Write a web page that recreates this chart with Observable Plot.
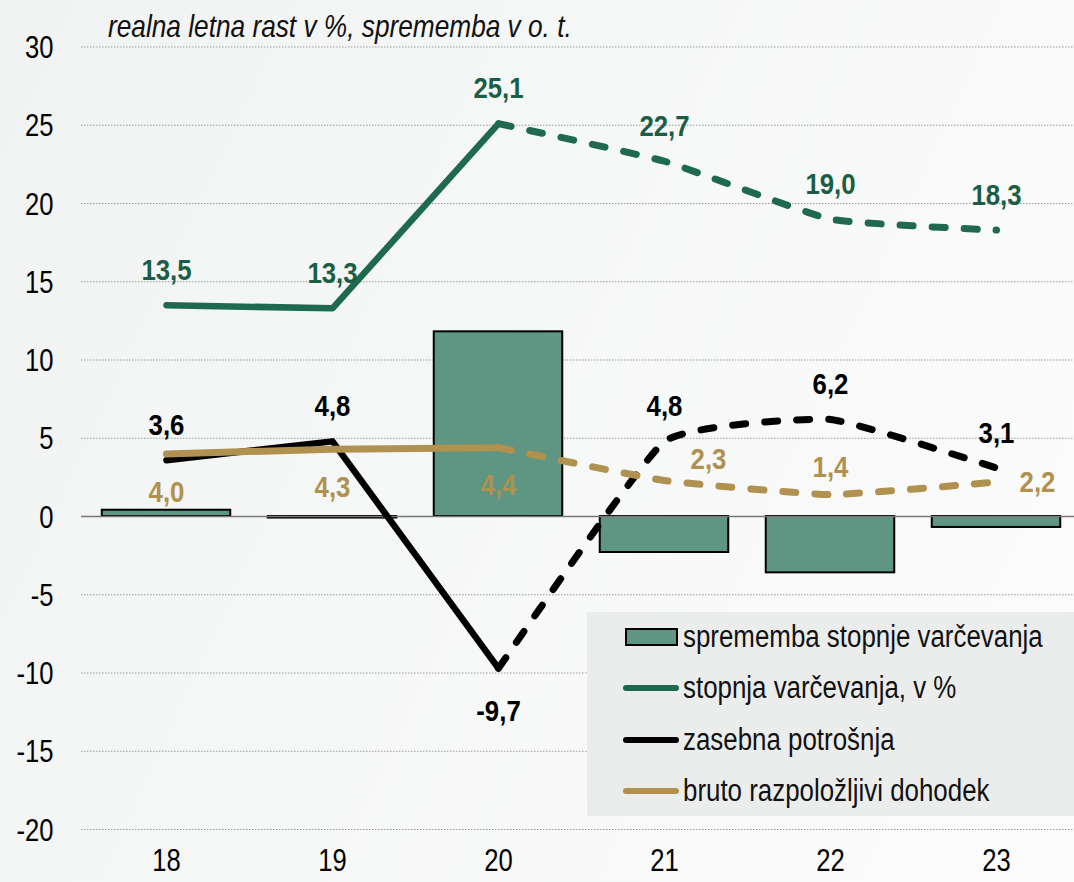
<!DOCTYPE html>
<html><head><meta charset="utf-8">
<script src="https://cdn.jsdelivr.net/npm/d3@7"></script>
<script src="https://cdn.jsdelivr.net/npm/@observablehq/plot@0.6"></script>
<style>
body{margin:0;background:#fff;}
#wrap{position:relative;width:1074px;height:882px;overflow:hidden;
 background:linear-gradient(115deg,#f1f3f2 0%,#f6f7f7 45%,#fbfcfb 100%);
 font-family:"Liberation Sans",Arial,sans-serif;}
#chart{position:absolute;left:0;top:0;}
#title{position:absolute;left:108px;top:8px;font-style:italic;font-size:32px;color:#111;white-space:nowrap;line-height:36px;transform:scaleX(0.82);transform-origin:left center;}
#legend{position:absolute;left:587px;top:612px;width:487px;height:204px;background:#ebedec;}
.item{position:absolute;left:36px;height:40px;display:flex;align-items:center;font-size:31px;color:#111;white-space:nowrap;}
.item .t{display:inline-block;transform:scaleX(0.835);transform-origin:left center;}
.sw-bar{width:49px;height:14px;background:#5f9683;border:2px solid #000;margin-right:5px;margin-left:2px;}
.sw-line{width:56px;height:6px;border-radius:3px;margin-right:4px;}
</style></head>
<body><div id="wrap"><div id="chart"></div>
<div id="title">realna letna rast v %, sprememba v o. t.</div>
<div id="legend"></div>
</div>
<script>
const years = ["18","19","20","21","22","23"];
const changeInSavingRate = [0.4,-0.1,11.8,-2.3,-3.6,-0.7];
const savingRate = [13.5,13.3,25.1,22.7,19.0,18.3];
const privateConsumption = [3.6,4.8,-9.7,4.8,6.2,3.1];
const grossDisposableIncome = [4.0,4.3,4.4,2.3,1.4,2.2];
const yTicks = [-20,-15,-10,-5,0,5,10,15,20,25,30];
const seriesNames = ["sprememba stopnje varčevanja","stopnja varčevanja, v %","zasebna potrošnja","bruto razpoložljivi dohodek"];

const GREEN = "#1f6a4f", GREEN_T = "#1b5e45", BAR = "#5f9683", GOLD = "#b0914f", BLACK = "#000";
const rows = years.map((y,i)=>({year:y, i, change:changeInSavingRate[i], saving:savingRate[i], cons:privateConsumption[i], inc:grossDisposableIncome[i]}));
const solid = rows.slice(0,3), dashed = rows.slice(2);
const fmt = v => v.toFixed(1).replace(".", ",");
const lbl = {fontWeight:"bold", fontSize:30, className:"lbl"};

const dash = {strokeWidth:7, strokeDasharray:"13,19", strokeLinecap:"round", strokeLinejoin:"round", curve:"cardinal", tension:0.6};
const sol = {strokeWidth:6.5, strokeLinecap:"round", strokeLinejoin:"round"};

const chart = Plot.plot({
  width:1074, height:882,
  marginLeft:81, marginRight:0, marginTop:46, marginBottom:53,
  style:{fontFamily:'"Liberation Sans",Arial,sans-serif', background:"transparent", overflow:"visible", color:"#000"},
  x:{type:"band", domain:years, range:[81.5,1080.5], padding:0},
  y:{domain:[-20,30], range:[829,46.5]},
  marks:[
    Plot.ruleY(yTicks.filter(d=>d!==0), {stroke:"#9a9a9a", strokeWidth:1, strokeDasharray:"1.5,1.5"}),
    Plot.barY(rows, {x:"year", y:"change", fill:BAR, stroke:BLACK, strokeWidth:2, insetLeft:18.75, insetRight:18.75}),
    Plot.ruleY([0], {stroke:"#777", strokeWidth:1.5}),
    Plot.line(solid, {x:"year", y:"saving", stroke:GREEN, ...sol}),
    Plot.line(dashed, {x:"year", y:"saving", stroke:GREEN, ...dash}),
    Plot.line(solid, {x:"year", y:"cons", stroke:BLACK, ...sol}),
    Plot.line(dashed, {x:"year", y:"cons", stroke:BLACK, ...dash}),
    Plot.line(solid, {x:"year", y:"inc", stroke:GOLD, ...sol, strokeWidth:7}),
    Plot.line(dashed, {x:"year", y:"inc", stroke:GOLD, ...dash, strokeWidth:7}),
    Plot.text(rows, {x:"year", y:"saving", text:d=>fmt(d.saving), fill:GREEN_T, dy:-35, ...lbl}),
    Plot.text(rows.filter(d=>d.i!==2), {x:"year", y:"cons", text:d=>fmt(d.cons), fill:BLACK, dy:-35, ...lbl}),
    Plot.text(rows.filter(d=>d.i===2), {x:"year", y:"cons", text:d=>fmt(d.cons), fill:BLACK, dy:43, ...lbl}),
    Plot.text(rows.filter(d=>d.i<3), {x:"year", y:"inc", text:d=>fmt(d.inc), fill:GOLD, dy:38, ...lbl}),
    Plot.text(rows.filter(d=>d.i===3), {x:"year", y:"inc", text:d=>fmt(d.inc), fill:GOLD, dx:44, dy:-21, ...lbl}),
    Plot.text(rows.filter(d=>d.i===4), {x:"year", y:"inc", text:d=>fmt(d.inc), fill:GOLD, dy:-27, ...lbl}),
    Plot.text(rows.filter(d=>d.i===5), {x:"year", y:"inc", text:d=>fmt(d.inc), fill:GOLD, dx:41, dy:0, ...lbl}),
    Plot.axisY(yTicks, {tickSize:0, tickPadding:28, fontSize:32, tickFormat:d=>String(d), label:null, dy:1}),
    Plot.axisX({tickSize:0, tickPadding:19, fontSize:32, label:null})
  ]
});
document.getElementById("chart").appendChild(chart);

// emulate a narrow typeface: squeeze each text horizontally around its anchor
chart.querySelectorAll("text").forEach(t => {
  const x = parseFloat(t.getAttribute("x")) || 0;
  const g = t.closest(".lbl");
  const s = g ? 0.86 : 0.8;
  const tr = t.getAttribute("transform") || "";
  t.setAttribute("transform", `${tr} translate(${x},0) scale(${s},1) translate(${-x},0)`.trim());
});

const leg = document.getElementById("legend");
const swatches = [
  '<span class="sw-bar"></span>',
  `<span class="sw-line" style="background:${GREEN}"></span>`,
  `<span class="sw-line" style="background:${BLACK}"></span>`,
  `<span class="sw-line" style="background:${GOLD}"></span>`
];
const tops = [5,56,108,159];
seriesNames.forEach((n,k)=>{
  const d = document.createElement("div");
  d.className = "item";
  d.style.top = tops[k]+"px";
  d.innerHTML = swatches[k] + '<span class="t">'+n+"</span>";
  leg.appendChild(d);
});
</script>
</body></html>
